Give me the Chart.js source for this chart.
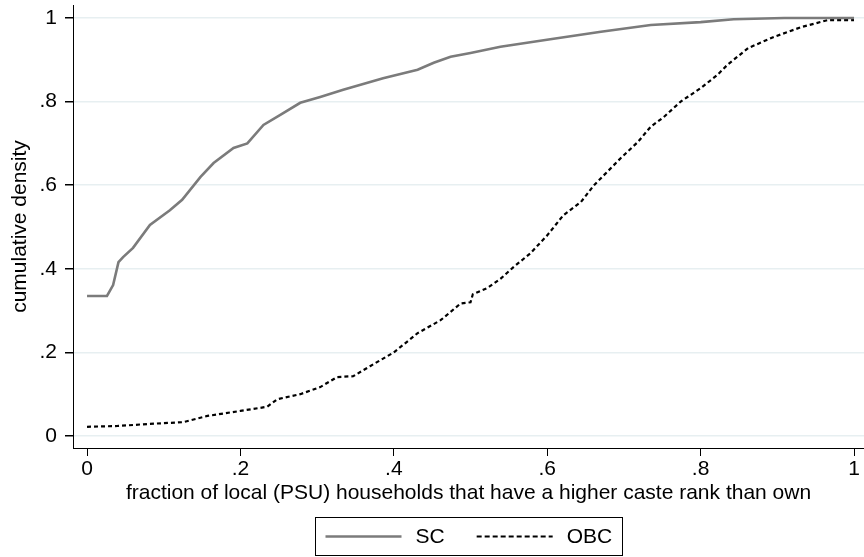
<!DOCTYPE html>
<html>
<head>
<meta charset="utf-8">
<script src="https://cdn.jsdelivr.net/npm/chart.js@4"></script>
<style>
  html, body { margin: 0; padding: 0; background: #fff; }
  #wrap { width: 864px; height: 557px; }
</style>
</head>
<body>
<div id="wrap"><canvas id="cdf"></canvas></div>
<script>
// values
const scX = [0, 0.026, 0.034, 0.041, 0.047, 0.060, 0.082, 0.108, 0.124, 0.148, 0.165, 0.191, 0.209, 0.230, 0.252, 0.278, 0.304, 0.334, 0.386, 0.431, 0.452, 0.474, 0.500, 0.539, 0.604, 0.670, 0.735, 0.800, 0.843, 0.909, 1.0];
const scY = [0.335, 0.335, 0.361, 0.416, 0.428, 0.450, 0.505, 0.540, 0.565, 0.620, 0.653, 0.689, 0.700, 0.744, 0.768, 0.797, 0.811, 0.828, 0.856, 0.876, 0.893, 0.907, 0.916, 0.931, 0.949, 0.967, 0.983, 0.990, 0.997, 1.0, 1.0];

const obcX = [0, 0.040, 0.082, 0.125, 0.157, 0.200, 0.235, 0.248, 0.278, 0.304, 0.326, 0.347, 0.369, 0.400, 0.431, 0.461, 0.487, 0.500, 0.503, 0.522, 0.539, 0.556, 0.578, 0.600, 0.621, 0.644, 0.661, 0.674, 0.696, 0.718, 0.735, 0.752, 0.774, 0.800, 0.822, 0.835, 0.862, 0.896, 0.931, 0.966, 1.0];
const obcY = [0.022, 0.024, 0.029, 0.033, 0.048, 0.060, 0.070, 0.088, 0.100, 0.117, 0.141, 0.143, 0.167, 0.200, 0.246, 0.277, 0.317, 0.320, 0.339, 0.354, 0.376, 0.404, 0.437, 0.480, 0.528, 0.560, 0.600, 0.624, 0.665, 0.703, 0.740, 0.763, 0.800, 0.832, 0.864, 0.888, 0.928, 0.955, 0.978, 0.995, 0.995];

const tickValues = [0, 0.2, 0.4, 0.6, 0.8, 1];
const tickLabels = ['0', '.2', '.4', '.6', '.8', '1'];

const seriesNames = ['SC', 'OBC'];
const xTitle = 'fraction of local (PSU) households that have a higher caste rank than own';
const yTitle = 'cumulative density';

const FONT = 'Liberation Sans, Arial, sans-serif';
const FSIZE = 21;

function toPoints(xs, ys) {
    return xs.map((x, i) => ({ x: x, y: ys[i] }));
}

function fmtTick(value) {
    const i = tickValues.findIndex(t => Math.abs(t - value) < 1e-9);
    return i >= 0 ? tickLabels[i] : '';
}

// legend drawn in a framed box under the axis title
const boxLegend = {
    id: 'boxLegend',
    afterDraw(chart) {
        const ctx = chart.ctx;
        const area = chart.chartArea;
        const w = 307, h = 38;
        const cx = (area.left + area.right) / 2;
        const left = Math.round(cx - w / 2) + 0.5;
        const top = 517.5;
        ctx.save();
        ctx.strokeStyle = '#000';
        ctx.lineWidth = 1;
        ctx.strokeRect(left, top, w, h);
        ctx.font = FSIZE + 'px ' + FONT;
        ctx.textBaseline = 'middle';
        ctx.fillStyle = '#000';
        const midY = top + h / 2;
        let x = left + 10;
        chart.data.datasets.forEach(ds => {
            ctx.beginPath();
            ctx.strokeStyle = ds.borderColor;
            ctx.lineWidth = ds.borderWidth;
            ctx.setLineDash(ds.borderDash ? [5, 3] : []);
            ctx.moveTo(x, midY);
            ctx.lineTo(x + 76, midY);
            ctx.stroke();
            ctx.setLineDash([]);
            x += 90;
            ctx.fillText(ds.label, x, midY + 1);
            x += ctx.measureText(ds.label).width + 32;
        });
        ctx.restore();
    }
};

new Chart(document.getElementById('cdf'), {
    type: 'line',
    data: {
        datasets: [{
            label: seriesNames[0],
            data: toPoints(scX, scY),
            borderColor: '#7b7b7b',
            borderWidth: 2.6,
            pointRadius: 0,
            tension: 0,
            fill: false
        }, {
            label: seriesNames[1],
            data: toPoints(obcX, obcY),
            borderColor: '#000000',
            borderWidth: 2.2,
            borderDash: [4, 3],
            pointRadius: 0,
            tension: 0,
            fill: false
        }]
    },
    options: {
        responsive: true,
        maintainAspectRatio: false,
        animation: false,
        layout: { padding: { top: 5, right: 0, bottom: 49, left: 0 } },
        plugins: {
            legend: { display: false },
            tooltip: { enabled: false }
        },
        scales: {
            x: {
                type: 'linear',
                min: -0.0183,
                max: 1.013,
                afterBuildTicks: axis => { axis.ticks = tickValues.map(v => ({ value: v })); },
                afterFit: axis => {
                    axis.height = 60;
                    axis.paddingLeft = 0;
                    axis.paddingRight = 0;
                },
                ticks: {
                    callback: fmtTick,
                    color: '#000',
                    font: { family: FONT, size: FSIZE },
                    padding: 1,
                    maxRotation: 0,
                    autoSkip: false
                },
                grid: { drawOnChartArea: false, tickColor: '#000', tickLength: 8 },
                border: { color: '#000', width: 1 },
                title: {
                    display: true,
                    text: xTitle,
                    color: '#000',
                    font: { family: FONT, size: FSIZE },
                    padding: { top: 0, bottom: 2 }
                }
            },
            y: {
                type: 'linear',
                min: -0.0287,
                max: 1.031,
                afterBuildTicks: axis => { axis.ticks = tickValues.map(v => ({ value: v })); },
                afterFit: axis => {
                    axis.width = 73;
                    axis.paddingTop = 0;
                    axis.paddingBottom = 0;
                },
                ticks: {
                    callback: fmtTick,
                    color: '#000',
                    font: { family: FONT, size: FSIZE },
                    padding: 8,
                    autoSkip: false
                },
                grid: { color: '#e7eff1', lineWidth: 1.5, tickColor: '#000', tickLength: 8 },
                border: { color: '#000', width: 1 },
                title: {
                    display: true,
                    text: yTitle,
                    color: '#000',
                    font: { family: FONT, size: FSIZE },
                    padding: { top: 8, bottom: 0 }
                }
            }
        }
    },
    plugins: [boxLegend]
});
</script>
</body>
</html>
